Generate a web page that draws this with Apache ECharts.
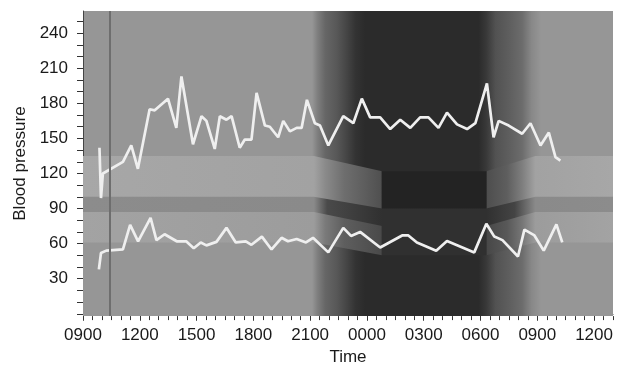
<!DOCTYPE html>
<html>
<head>
<meta charset="utf-8">
<script src="https://cdn.jsdelivr.net/npm/echarts@6/dist/echarts.min.js"></script>
<style>
html,body{margin:0;padding:0;background:#ffffff;}
#chart{width:617px;height:371px;}
</style>
</head>
<body>
<div id="chart"></div>
<script>
// ---- data (hours since 09:00 on day 1) ----
const xTickHours = [0, 3, 6, 9, 12, 15, 18, 21, 24, 27];
const xTickLabels = ['0900', '1200', '1500', '1800', '2100', '0000', '0300', '0600', '0900', '1200'];
const yTickLabels = [30, 60, 90, 120, 150, 180, 210, 240];

const sysHours = [0.87,0.95,1.05,2.11,2.55,2.90,3.52,3.79,4.49,4.93,5.20,5.81,6.26,6.52,6.96,7.23,7.58,7.85,8.28,8.55,8.90,9.17,9.61,9.87,10.31,10.58,10.93,11.29,11.55,11.83,12.25,12.52,12.96,13.75,14.28,14.73,15.17,15.70,16.23,16.76,17.29,17.81,18.25,18.78,19.23,19.76,20.29,20.73,21.34,21.69,21.96,22.49,23.20,23.64,24.17,24.61,24.96,25.22];
const sysValues = [142,99,120,130,144,124,175,174,184,159,203,145,169,165,141,169,166,169,142,149,149,189,161,160,151,165,156,159,159,183,163,161,144,169,163,184,168,168,158,166,159,168,168,159,172,162,158,163,197,151,165,161,154,163,144,155,134,131];

const diaHours = [0.84,0.95,1.23,2.11,2.49,2.91,3.57,3.88,4.31,4.95,5.45,5.85,6.22,6.52,7.05,7.58,8.07,8.60,8.90,9.45,9.96,10.49,10.83,11.29,11.78,12.15,12.96,13.75,14.16,14.64,15.70,16.86,17.19,17.64,18.66,19.23,20.67,21.31,21.73,22.16,22.98,23.32,23.85,24.34,25.01,25.32];
const diaValues = [38,52,54,55,76,62,82,63,68,62,62,56,61,58.5,61.5,73.5,61,62,59,66,55,65,62,64,61,65,52.5,73.5,66.6,70,56.7,67,67,61,54,62.3,52.5,77,66,63,49,72,67,54,76.4,61];

// reference ranges (day / night)
const bandHours = [0, 12.2, 15.8, 21.3, 23.9, 28];
const lowerBandLow = [61, 61, 50, 50, 61, 61];
const lowerBandHigh = [87, 87, 75, 75, 87, 87];
const upperBandLow = [100, 100, 90, 90, 100, 100];
const upperBandHigh = [135, 135, 122, 122, 135, 135];

const nightStart = 12.1;
const nightEnd = 24.2;
const eventHour = 1.43;

const xMin = 0, xMax = 28, yMin = -2, yMax = 259;

// ---- styles ----
const nightStops = [[12.1,'#969696'],[12.4,'#7e7e7e'],[12.8,'#666666'],[13.4,'#585858'],[13.9,'#464646'],[14.4,'#333333'],[14.9,'#2b2b2b'],[20.9,'#2b2b2b'],[21.3,'#383838'],[21.8,'#525252'],[22.5,'#5e5e5e'],[23.2,'#6c6c6c'],[23.7,'#888888'],[24.2,'#969696']];
const bgStops = [[0,'#969696']].concat(nightStops, [[28,'#969696']]);
const upperStops = [[0,'#a7a7a7'],[12.2,'#a2a2a2'],[12.8,'#8a8a8a'],[13.8,'#6e6e6e'],[15.75,'#505050'],[15.8,'#232323'],[21.3,'#232323'],[21.35,'#4e4e4e'],[22.4,'#5e5e5e'],[23.2,'#7e7e7e'],[23.9,'#a2a2a2'],[28,'#a7a7a7']];
const stripStops = [[0,'#8c8c8c'],[12.2,'#8a8a8a'],[12.9,'#4a4a4a'],[15.8,'#303030'],[21.3,'#303030'],[22.8,'#444444'],[23.9,'#8a8a8a'],[28,'#8c8c8c']];
const lowerStops = [[0,'#a3a3a3'],[12.2,'#9c9c9c'],[12.8,'#7a7a7a'],[13.8,'#5e5e5e'],[15.75,'#4a4a4a'],[15.8,'#303030'],[21.3,'#303030'],[21.35,'#484848'],[22.4,'#585858'],[23.2,'#767676'],[23.9,'#9c9c9c'],[28,'#a3a3a3']];

function hGrad(stops, h0, h1) {
  return new echarts.graphic.LinearGradient(0, 0, 1, 0,
    stops.map(s => ({ offset: (s[0] - h0) / (h1 - h0), color: s[1] })));
}
const pairs = (xs, ys) => xs.map((x, i) => [x, ys[i]]);

const font = 'Liberation Sans, Arial, sans-serif';
const textColor = '#1a1a1a';

function bandLayer(values, stops, z) {
  return { type: 'line', data: pairs(bandHours, values), symbol: 'none', silent: true, z: z,
    lineStyle: { width: 0, opacity: 0 },
    areaStyle: { origin: 'start', opacity: 1, color: hGrad(stops, xMin, xMax) } };
}

const halfHours = [];
for (let h = xMin; h <= xMax; h += 0.5) { if (xTickHours.indexOf(h) < 0) halfHours.push(h); }
const yTicks = [];
for (let v = 0; v <= 250; v += 10) yTicks.push(v);

const chart = echarts.init(document.getElementById('chart'), null, { renderer: 'canvas' });
chart.setOption({
  animation: false,
  backgroundColor: '#ffffff',
  grid: { left: 83, right: 4, top: 11, bottom: 50, show: true, backgroundColor: '#969696', borderWidth: 0 },
  xAxis: [{
    type: 'value', min: xMin, max: xMax,
    name: 'Time', nameLocation: 'middle', nameGap: 30,
    nameTextStyle: { fontFamily: font, fontSize: 17, color: textColor },
    axisLine: { show: true, lineStyle: { color: '#444', width: 1 } },
    axisTick: { show: true, customValues: xTickHours, length: 7, lineStyle: { color: '#333' } },
    axisLabel: { customValues: xTickHours, margin: 11, fontFamily: font, fontSize: 17, color: textColor,
      formatter: v => xTickLabels[xTickHours.indexOf(v)] },
    splitLine: { show: false }
  }, {
    type: 'value', min: xMin, max: xMax, position: 'bottom',
    axisLine: { show: false },
    axisTick: { show: true, customValues: halfHours, length: 4, lineStyle: { color: '#333' } },
    axisLabel: { show: false },
    splitLine: { show: false }
  }],
  yAxis: {
    type: 'value', min: yMin, max: yMax,
    name: 'Blood pressure', nameLocation: 'middle', nameGap: 53,
    nameTextStyle: { fontFamily: font, fontSize: 17, color: textColor },
    axisLine: { show: true, lineStyle: { color: '#444', width: 1 } },
    axisTick: { show: true, customValues: yTicks, length: 6, lineStyle: { color: '#333' } },
    axisLabel: { customValues: yTickLabels, margin: 15, fontFamily: font, fontSize: 17, color: textColor },
    splitLine: { show: false }
  },
  series: [
    { type: 'line', data: [], z: 1, silent: true,
      markArea: { silent: true, itemStyle: { color: hGrad(nightStops, nightStart, nightEnd) },
        data: [[{ xAxis: nightStart, yAxis: yMin }, { xAxis: nightEnd, yAxis: yMax }]] } },
    bandLayer(upperBandHigh, upperStops, 2),
    bandLayer(upperBandLow, stripStops, 2),
    bandLayer(lowerBandHigh, lowerStops, 2),
    bandLayer(lowerBandLow, bgStops, 2),
    { type: 'line', data: [], z: 3, silent: true,
      markLine: { silent: true, symbol: 'none', label: { show: false },
        lineStyle: { color: '#6e6e6e', width: 2, type: 'solid' },
        data: [{ xAxis: eventHour }] } },
    { type: 'line', name: 'Systolic', data: pairs(sysHours, sysValues), symbol: 'none', z: 4,
      lineStyle: { color: '#efefef', width: 2.7 } },
    { type: 'line', name: 'Diastolic', data: pairs(diaHours, diaValues), symbol: 'none', z: 4,
      lineStyle: { color: '#efefef', width: 2.7 } }
  ]
});
</script>
</body>
</html>
